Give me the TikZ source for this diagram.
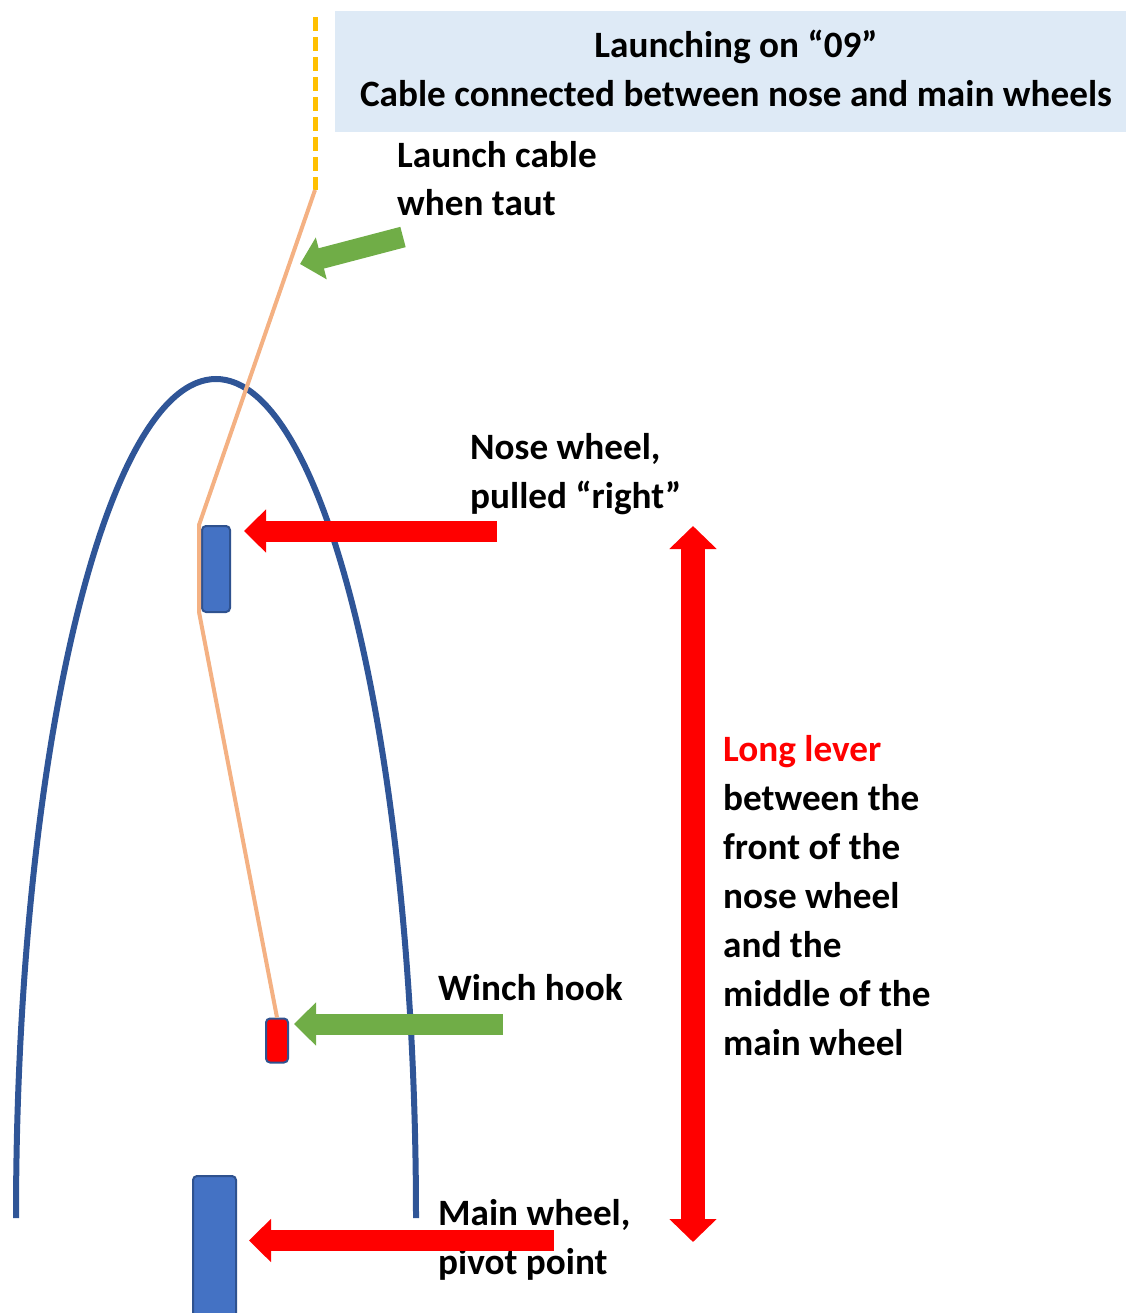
\documentclass[tikz,border=0pt]{standalone}
\usepackage{fontspec}
\setmainfont{Carlito}
\usetikzlibrary{arrows.meta}
\definecolor{titlebg}{HTML}{DEEAF6}
\definecolor{cableyel}{HTML}{FFC000}
\definecolor{cableor}{HTML}{F4B183}
\definecolor{arcblue}{HTML}{2F5597}
\definecolor{wheelblue}{HTML}{4472C4}
\definecolor{wheeledge}{HTML}{2F528F}
\definecolor{grn}{HTML}{70AD47}
\definecolor{rd}{HTML}{FF0000}
\tikzset{
  lbl/.style={anchor=base west, inner sep=0pt, font=\fontsize{37.2}{45}\selectfont\bfseries},
  ttl/.style={anchor=base, inner sep=0pt, font=\fontsize{37.2}{45}\selectfont\bfseries},
  wheel/.style={draw=wheeledge, line width=2pt, fill=wheelblue, rounded corners=4pt, inner sep=0pt},
  redarrow/.style={draw=rd, line width=21pt, -{Triangle[length=22pt,width=42pt]}},
  grnarrow/.style={draw=grn, line width=21pt, -{Triangle[length=22pt,width=42pt]}},
}
\begin{document}
\begin{tikzpicture}[x=1pt,y=-1pt]
\useasboundingbox (0,0) rectangle (1126,1313);
% title
\fill[titlebg] (335,11) rectangle (1126,132);
\node[ttl] (t1) at (736,58) {Launching on “09”};
\node[ttl] (t2) at (736,107) {Cable connected between nose and main wheels};
% fuselage arc
\draw[arcblue, line width=6pt] (16,1218) arc[start angle=180, end angle=0, x radius=200pt, y radius=839pt];
% wheels
\node[wheel, minimum width=28pt, minimum height=86pt] (nose) at (216,569) {};
\node[wheel, minimum width=22pt, minimum height=44pt, fill=rd] (hook) at (277,1040.5) {};
\node[wheel, minimum width=43pt, minimum height=160pt] (main) at (214.5,1256) {};
% cable
\coordinate (ctop) at (315,190);
\coordinate (cup) at (199,525);
\coordinate (clow) at (199,612);
\draw[cableyel, line width=5pt, dash pattern=on 14pt off 6pt] (315,17) -- (ctop);
\draw[cableor, line width=4pt, line join=round] (ctop) -- (cup) -- (clow) -- (hook.north);
% labels
\node[lbl] (lc1) at (397,168) {Launch cable};
\node[lbl] (lc2) at (397,216) {when taut};
\node[lbl] (nw1) at (470,459) {Nose wheel,};
\node[lbl] (nw2) at (470,508) {pulled “right”};
\node[lbl] (wh) at (438,1000) {Winch hook};
\node[lbl] (mw1) at (438,1225) {Main wheel,};
\node[lbl] (mw2) at (438,1274) {pivot point};
\node[lbl, text=rd] (ll1) at (723,761) {Long lever};
\node[lbl] (ll2) at (723,810) {between the};
\node[lbl] (ll3) at (723,859) {front of the};
\node[lbl] (ll4) at (723,908) {nose wheel};
\node[lbl] (ll5) at (723,957) {and the};
\node[lbl] (ll6) at (723,1006) {middle of the};
\node[lbl] (ll7) at (723,1055) {main wheel};
% arrows
\coordinate (g1tail) at (403,237);
\coordinate (g1tip) at (300,264);
\draw[grnarrow] (g1tail) -- (g1tip);
\coordinate (rntail) at (497,531);
\draw[redarrow] (rntail) -- ([xshift=13pt]nose.east |- rntail);
\coordinate (ghtail) at (503,1024);
\draw[grnarrow] (ghtail) -- ([xshift=5pt]hook.east |- ghtail);
\coordinate (rmtail) at (554,1240.5);
\draw[redarrow] (rmtail) -- ([xshift=12pt]main.east |- rmtail);
\coordinate (levtop) at (693,526);
\coordinate (levbot) at (693,1242);
\draw[draw=rd, line width=24pt, {Triangle[length=23pt,width=46pt]}-{Triangle[length=23pt,width=46pt]}] (levtop) -- (levbot);
\end{tikzpicture}
\end{document}
